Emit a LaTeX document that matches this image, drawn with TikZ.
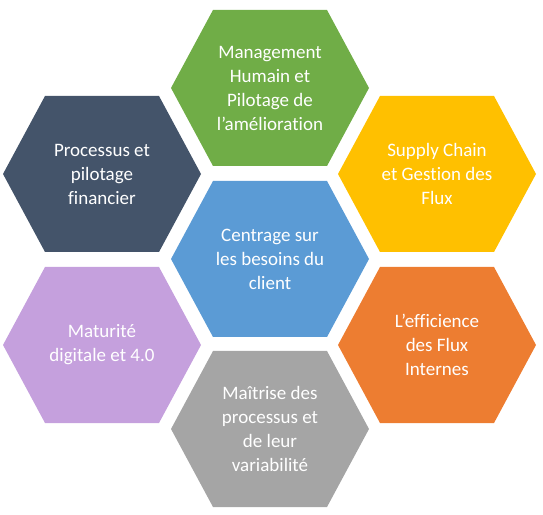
\documentclass[tikz,border=0pt]{standalone}
\usepackage{fontspec}
\setmainfont{Carlito}[Ligatures={NoCommon,NoContextual}]

\definecolor{hexgreen}{HTML}{70AD47}
\definecolor{hexgold}{HTML}{FFC000}
\definecolor{hexorange}{HTML}{ED7D31}
\definecolor{hexgrey}{HTML}{A5A5A5}
\definecolor{hexlilac}{HTML}{C5A0DD}
\definecolor{hexslate}{HTML}{44546A}
\definecolor{hexblue}{HTML}{5B9BD5}

\begin{document}
\begin{tikzpicture}[x=1pt,y=1pt,
    hexlabel/.style={text=white, align=center, font=\fontsize{19}{24}\selectfont}]
    \useasboundingbox (0,0) rectangle (543,514);

    % Draw the hexagons and their labels
    \foreach \name/\x/\y/\col/\txt in {
        humain/270/426/hexgreen/{Management\\Humain et\\Pilotage de\\l’amélioration},
        supply/437/340/hexgold/{Supply Chain\\et Gestion des\\Flux},
        efficience/437/169/hexorange/{L’efficience\\des Flux\\Internes},
        maitrise/270/85/hexgrey/{Maîtrise des\\processus et\\de leur\\variabilité},
        digital/102/169/hexlilac/{Maturité\\digitale et 4.0},
        financier/102/340/hexslate/{Processus et\\pilotage\\financier},
        client/270/255/hexblue/{Centrage sur\\les besoins du\\client}} {
        \fill[\col] (\x-99,\y) -- (\x-57,\y+78) -- (\x+57,\y+78)
            -- (\x+99,\y) -- (\x+57,\y-78) -- (\x-57,\y-78) -- cycle;
        \node[hexlabel] (\name) at (\x,\y) {\txt};
    }

\end{tikzpicture}
\end{document}
